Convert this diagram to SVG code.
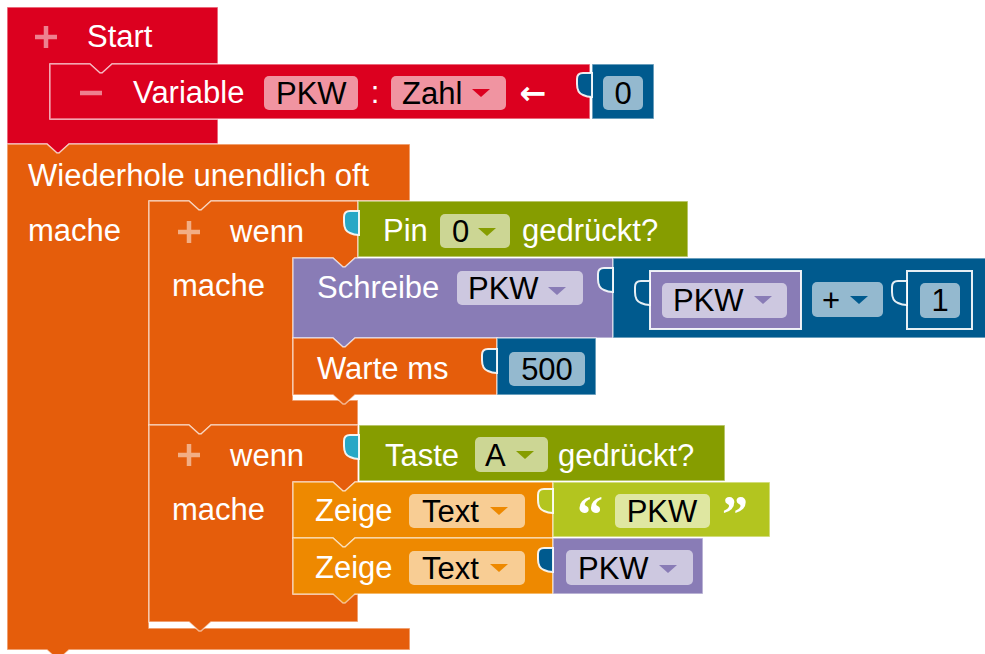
<svg xmlns="http://www.w3.org/2000/svg" xmlns:xlink="http://www.w3.org/1999/xlink" width="985" height="654" viewBox="0 0 985 654">
  <style>
    .blk { stroke: #ffffff; stroke-opacity: 0.55; stroke-width: 1.5; }
    .red { fill: #dc001f; }
    .loop { fill: #e55d0b; }
    .show { fill: #ee8900; }
    .logic { fill: #869d00; }
    .str { fill: #b3c51f; }
    .var { fill: #897cb6; }
    .num { fill: #005a8e; }
    .teal { fill: #28a8c6; }
    .tab { stroke: #ffffff; stroke-opacity: 0.9; stroke-width: 2; }
    .fld { fill: #ffffff; fill-opacity: 0.58; }
    .t { font-family: "Liberation Sans", Arial, "DejaVu Sans", sans-serif; font-size: 31px; fill: #ffffff; }
    .v { font-family: "Liberation Sans", Arial, "DejaVu Sans", sans-serif; font-size: 31px; fill: #000000; }
    .arrow { font-family: "DejaVu Sans", sans-serif; font-weight: bold; font-size: 32px; fill: #ffffff; }
    .q { font-family: "Liberation Serif", "Times New Roman", serif; font-weight: bold; font-size: 52px; fill: #ffffff; }
    .ico { stroke: #ffffff; stroke-opacity: 0.5; stroke-width: 4.5; fill: none; }
  </style>
  <defs>
    <!-- output tab of a value block, origin at the block's left edge, tab top -->
    <path id="tab" d="M0,0 h-9 q-6,0 -6,6 v5 q0,9 6,11 q4,2 9,2 z"/>
    <!-- dropdown arrow, origin at the arrow's left/top corner -->
    <path id="dd" d="M0,0 h18 l-9,8 z"/>
  </defs>

  <g id="connectors"></g>

  <!-- Start (hat) block with its statement slot -->
  <g id="start">
    <path class="blk red" d="M7,7 H218 V64 H112 l-10,9 h-2 l-10,-9 H50 V119 H218 V144 H69 l-10,9 h-2 l-10,-9 H7 Z"/>
    <path class="ico" d="M35,37 H57 M46,26 V48"/>
    <text class="t" x="87" y="47">Start</text>
  </g>

  <!-- Variable declaration -->
  <g id="declare">
    <path class="blk red" d="M50,64 h40 l10,9 h2 l10,-9 H590 V119 H50 Z"/>
    <path class="ico" d="M80,93 H102"/>
    <text class="t" x="133" y="103">Variable</text>
    <rect class="fld" x="264" y="76" width="94" height="34" rx="5"/>
    <text class="v" x="276" y="104">PKW</text>
    <text class="t" x="375" y="103" text-anchor="middle">:</text>
    <rect class="fld" x="391" y="76" width="115" height="34" rx="5"/>
    <text class="v" x="402" y="104">Zahl</text>
    <use xlink:href="#dd" x="472" y="89" class="red"/>
    <text class="arrow" x="533" y="104" text-anchor="middle">←</text>
  </g>

  <g id="num0">
    <rect class="blk num" x="592" y="64" width="62" height="55"/>
    <use xlink:href="#tab" x="592" y="73" class="tab num"/>
    <rect class="fld" x="603" y="76" width="40" height="34" rx="5"/>
    <text class="v" x="623" y="104" text-anchor="middle">0</text>
  </g>

  <!-- Forever loop -->
  <g id="forever">
    <path class="blk loop" d="M7,144 h40 l10,9 h2 l10,-9 H410 V201 H211 l-10,9 h-2 l-10,-9 H149 V628 H410 V650 H69 l-10,9 h-2 l-10,-9 H7 Z"/>
    <text class="t" x="28" y="186">Wiederhole unendlich oft</text>
    <text class="t" x="28" y="241">mache</text>
  </g>

  <!-- if: pin pressed -->
  <g id="if1">
    <path class="blk loop" d="M149,201 h40 l10,9 h2 l10,-9 H358 V258 H355 l-10,9 h-2 l-10,-9 H293 V400 H358 V425 H211 l-10,9 h-2 l-10,-9 H149 Z"/>
    <path class="ico" d="M178,232 H200 M189,221 V243"/>
    <text class="t" x="230" y="242">wenn</text>
    <text class="t" x="172" y="296">mache</text>
  </g>

  <g id="pin">
    <rect class="blk logic" x="358" y="201" width="330" height="56"/>
    <use xlink:href="#tab" x="359" y="211" class="tab teal"/>
    <text class="t" x="383" y="241">Pin</text>
    <rect class="fld" x="440" y="214" width="70" height="34" rx="5"/>
    <text class="v" x="452" y="242">0</text>
    <use xlink:href="#dd" x="478" y="228" class="logic"/>
    <text class="t" x="522" y="241">gedrückt?</text>
  </g>

  <!-- set PKW to PKW + 1 -->
  <g id="set">
    <path class="blk var" d="M293,258 h40 l10,9 h2 l10,-9 H613 V338 H355 l-10,9 h-2 l-10,-9 H293 Z"/>
    <text class="t" x="317" y="298">Schreibe</text>
    <rect class="fld" x="457" y="271" width="126" height="34" rx="5"/>
    <text class="v" x="468" y="299">PKW</text>
    <use xlink:href="#dd" x="548" y="287" class="var"/>
  </g>

  <g id="sum">
    <rect class="blk num" x="613" y="258" width="380" height="80"/>
    <use xlink:href="#tab" x="613" y="268" class="tab num"/>
    <rect class="fld" x="812" y="282" width="71" height="35" rx="5"/>
    <text class="v" x="822" y="311">+</text>
    <use xlink:href="#dd" x="850" y="296" class="num"/>
  </g>

  <g id="sumPkw">
    <rect x="650" y="271" width="151" height="58" class="var" stroke="#ffffff" stroke-opacity="0.9" stroke-width="2"/>
    <use xlink:href="#tab" x="650" y="281" class="tab num"/>
    <rect class="fld" x="662" y="283" width="125" height="35" rx="5"/>
    <text class="v" x="673" y="311">PKW</text>
    <use xlink:href="#dd" x="754" y="296" class="var"/>
  </g>

  <g id="sum1">
    <rect x="907" y="271" width="65" height="58" class="num" stroke="#ffffff" stroke-opacity="0.9" stroke-width="2"/>
    <use xlink:href="#tab" x="907" y="281" class="tab num"/>
    <rect class="fld" x="920" y="283" width="40" height="35" rx="5"/>
    <text class="v" x="940" y="311" text-anchor="middle">1</text>
  </g>

  <!-- wait ms -->
  <g id="wait">
    <path class="blk loop" d="M293,338 h40 l10,9 h2 l10,-9 H497 V395 H355 l-10,9 h-2 l-10,-9 H293 Z"/>
    <text class="t" x="317" y="379">Warte ms</text>
  </g>

  <g id="num500">
    <rect class="blk num" x="497" y="338" width="99" height="57"/>
    <use xlink:href="#tab" x="497" y="349" class="tab num"/>
    <rect class="fld" x="509" y="352" width="76" height="34" rx="5"/>
    <text class="v" x="547" y="380" text-anchor="middle">500</text>
  </g>

  <!-- if: button A pressed -->
  <g id="if2">
    <path class="blk loop" d="M149,425 h40 l10,9 h2 l10,-9 H358 V482 H355 l-10,9 h-2 l-10,-9 H293 V594 H358 V622 H211 l-10,9 h-2 l-10,-9 H149 Z"/>
    <path class="ico" d="M178,455 H200 M189,444 V466"/>
    <text class="t" x="230" y="466">wenn</text>
    <text class="t" x="172" y="520">mache</text>
  </g>

  <g id="button">
    <rect class="blk logic" x="359" y="425" width="366" height="56"/>
    <use xlink:href="#tab" x="359" y="435" class="tab teal"/>
    <text class="t" x="385" y="466">Taste</text>
    <rect class="fld" x="475" y="437" width="73" height="35" rx="5"/>
    <text class="v" x="485" y="466">A</text>
    <use xlink:href="#dd" x="516" y="451" class="logic"/>
    <text class="t" x="558" y="466">gedrückt?</text>
  </g>

  <!-- show text "PKW" -->
  <g id="show1">
    <path class="blk show" d="M293,482 h40 l10,9 h2 l10,-9 H553 V538 H355 l-10,9 h-2 l-10,-9 H293 Z"/>
    <text class="t" x="315" y="521">Zeige</text>
    <rect class="fld" x="409" y="494" width="116" height="34" rx="5"/>
    <text class="v" x="422" y="522">Text</text>
    <use xlink:href="#dd" x="490" y="507" class="show"/>
  </g>

  <g id="string">
    <rect class="blk str" x="553" y="482" width="217" height="55"/>
    <use xlink:href="#tab" x="553" y="489" class="tab str"/>
    <text class="q" x="590" y="532" text-anchor="middle">“</text>
    <rect class="fld" x="615" y="494" width="95" height="34" rx="5"/>
    <text class="v" x="662" y="522" text-anchor="middle">PKW</text>
    <text class="q" x="735" y="532" text-anchor="middle">”</text>
  </g>

  <!-- show variable PKW -->
  <g id="show2">
    <path class="blk show" d="M293,538 h40 l10,9 h2 l10,-9 H553 V594 H355 l-10,9 h-2 l-10,-9 H293 Z"/>
    <text class="t" x="315" y="578">Zeige</text>
    <rect class="fld" x="409" y="551" width="116" height="34" rx="5"/>
    <text class="v" x="422" y="579">Text</text>
    <use xlink:href="#dd" x="490" y="564" class="show"/>
  </g>

  <g id="getPkw">
    <rect class="blk var" x="553" y="538" width="150" height="56"/>
    <use xlink:href="#tab" x="553" y="548" class="tab num"/>
    <rect class="fld" x="566" y="550" width="127" height="35" rx="5"/>
    <text class="v" x="578" y="579">PKW</text>
    <use xlink:href="#dd" x="659" y="565" class="var"/>
  </g>
</svg>
